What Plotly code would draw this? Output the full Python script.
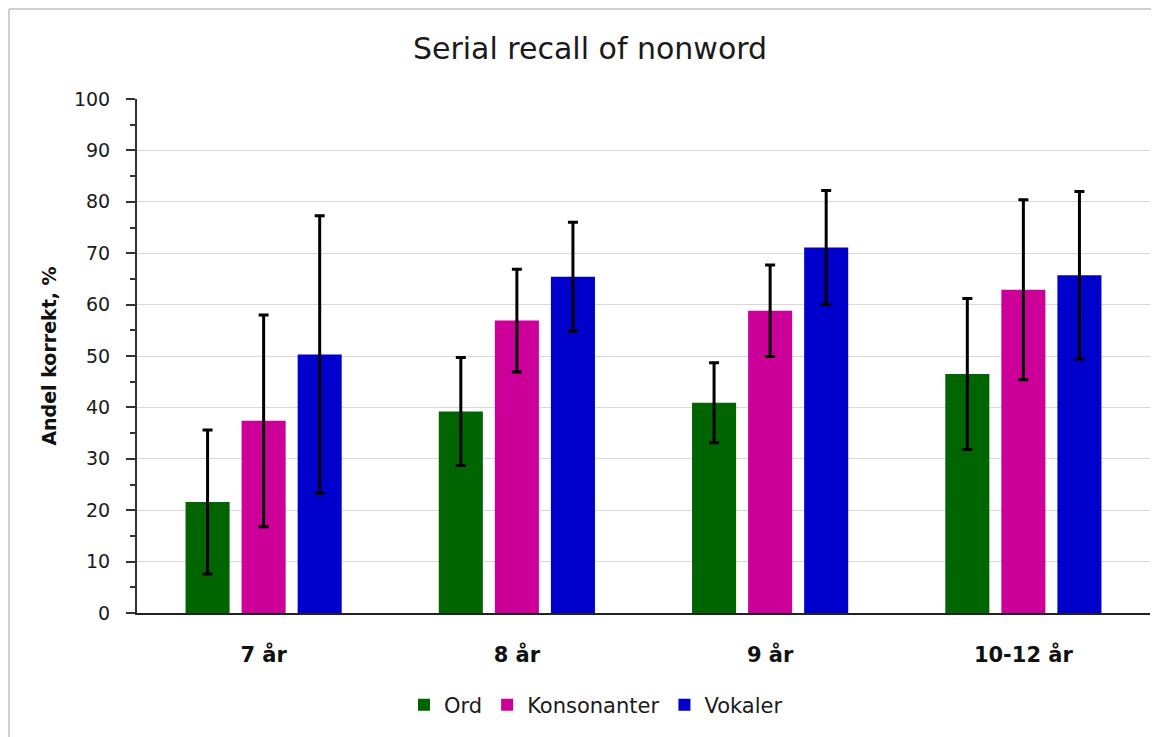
import plotly.graph_objects as go

categories = ["7 år", "8 år", "9 år", "10-12 år"]
series_names = ["Ord", "Konsonanter", "Vokaler"]
ord_vals = [21.6, 39.2, 40.9, 46.5]
ord_err = [14.0, 10.5, 7.8, 14.7]
kons_vals = [37.4, 56.9, 58.8, 62.9]
kons_err = [20.6, 10.0, 8.9, 17.5]
vok_vals = [50.3, 65.4, 71.1, 65.7]
vok_err = [27.0, 10.6, 11.1, 16.3]
colors = ["#006400", "#CC0099", "#0000CC"]

fig = go.Figure()
for name, vals, errs, col in zip(series_names, [ord_vals, kons_vals, vok_vals],
                                 [ord_err, kons_err, vok_err], colors):
    fig.add_trace(go.Bar(
        x=categories, y=vals, name=name,
        marker=dict(color=col, line=dict(width=0)),
        error_y=dict(type="data", array=errs, visible=True, color="black",
                     thickness=3, width=5),
    ))

ff = "DejaVu Sans, sans-serif"
W, H = 1151, 729
L, R, T, B = 129, 9, 91, 124
pw, ph = W - L - R, H - T - B
fig.update_layout(
    width=W, height=H,
    paper_bgcolor="white", plot_bgcolor="white",
    margin=dict(l=L, r=R, t=T, b=B),
    barmode="group", bargap=0.336, bargroupgap=0.214,
    title=dict(text="Serial recall of nonword", x=(590 - 8 - L) / pw, xref="paper", xanchor="center",
               y=1 - 40 / H, yref="container", yanchor="middle",
               font=dict(family=ff, size=30, color="#1a1a1a")),
    font=dict(family=ff, color="#1a1a1a"),
    legend=dict(orientation="h", x=(596 - 8 - L) / pw, xanchor="center",
                y=-(705 - 613) / ph, yanchor="middle",
                font=dict(size=21, family=ff), traceorder="normal"),
    showlegend=True,
)

fig.update_xaxes(
    showline=True, linecolor="#222222", linewidth=2,
    tickfont=dict(size=21, family=ff, color="#111111"),
    ticks="", showgrid=False, ticklabelstandoff=22,
    tickprefix="<b>", ticksuffix="</b>",
)
fig.update_yaxes(
    range=[0, 100], dtick=10, showline=True, linecolor="#333333", linewidth=2,
    ticks="outside", ticklen=9, tickwidth=1.5, tickcolor="#333333",
    minor=dict(dtick=5, ticks="outside", ticklen=5, tickcolor="#333333", showgrid=False),
    showgrid=True, gridcolor="#D9D9D9", gridwidth=1.3,
    tickfont=dict(size=19, family=ff, color="#1a1a1a"), ticklabelstandoff=12,
    title=dict(text="<b>Andel korrekt, %</b>", font=dict(size=19, family=ff, color="#111111"),
               standoff=12),
    zeroline=False,
)

# outer chart border (left and top edges visible)
fig.add_shape(type="line", xref="paper", yref="paper",
              x0=-(L - 1) / pw, x1=-(L - 1) / pw, y0=-(B + 10) / ph, y1=1 + (T - 1) / ph,
              line=dict(color="#D0D0D0", width=2))
fig.add_shape(type="line", xref="paper", yref="paper",
              x0=-(L - 1) / pw, x1=1 + (R + 10) / pw, y0=1 + (T - 1) / ph, y1=1 + (T - 1) / ph,
              line=dict(color="#D0D0D0", width=2))

fig.write_html("out.html")
